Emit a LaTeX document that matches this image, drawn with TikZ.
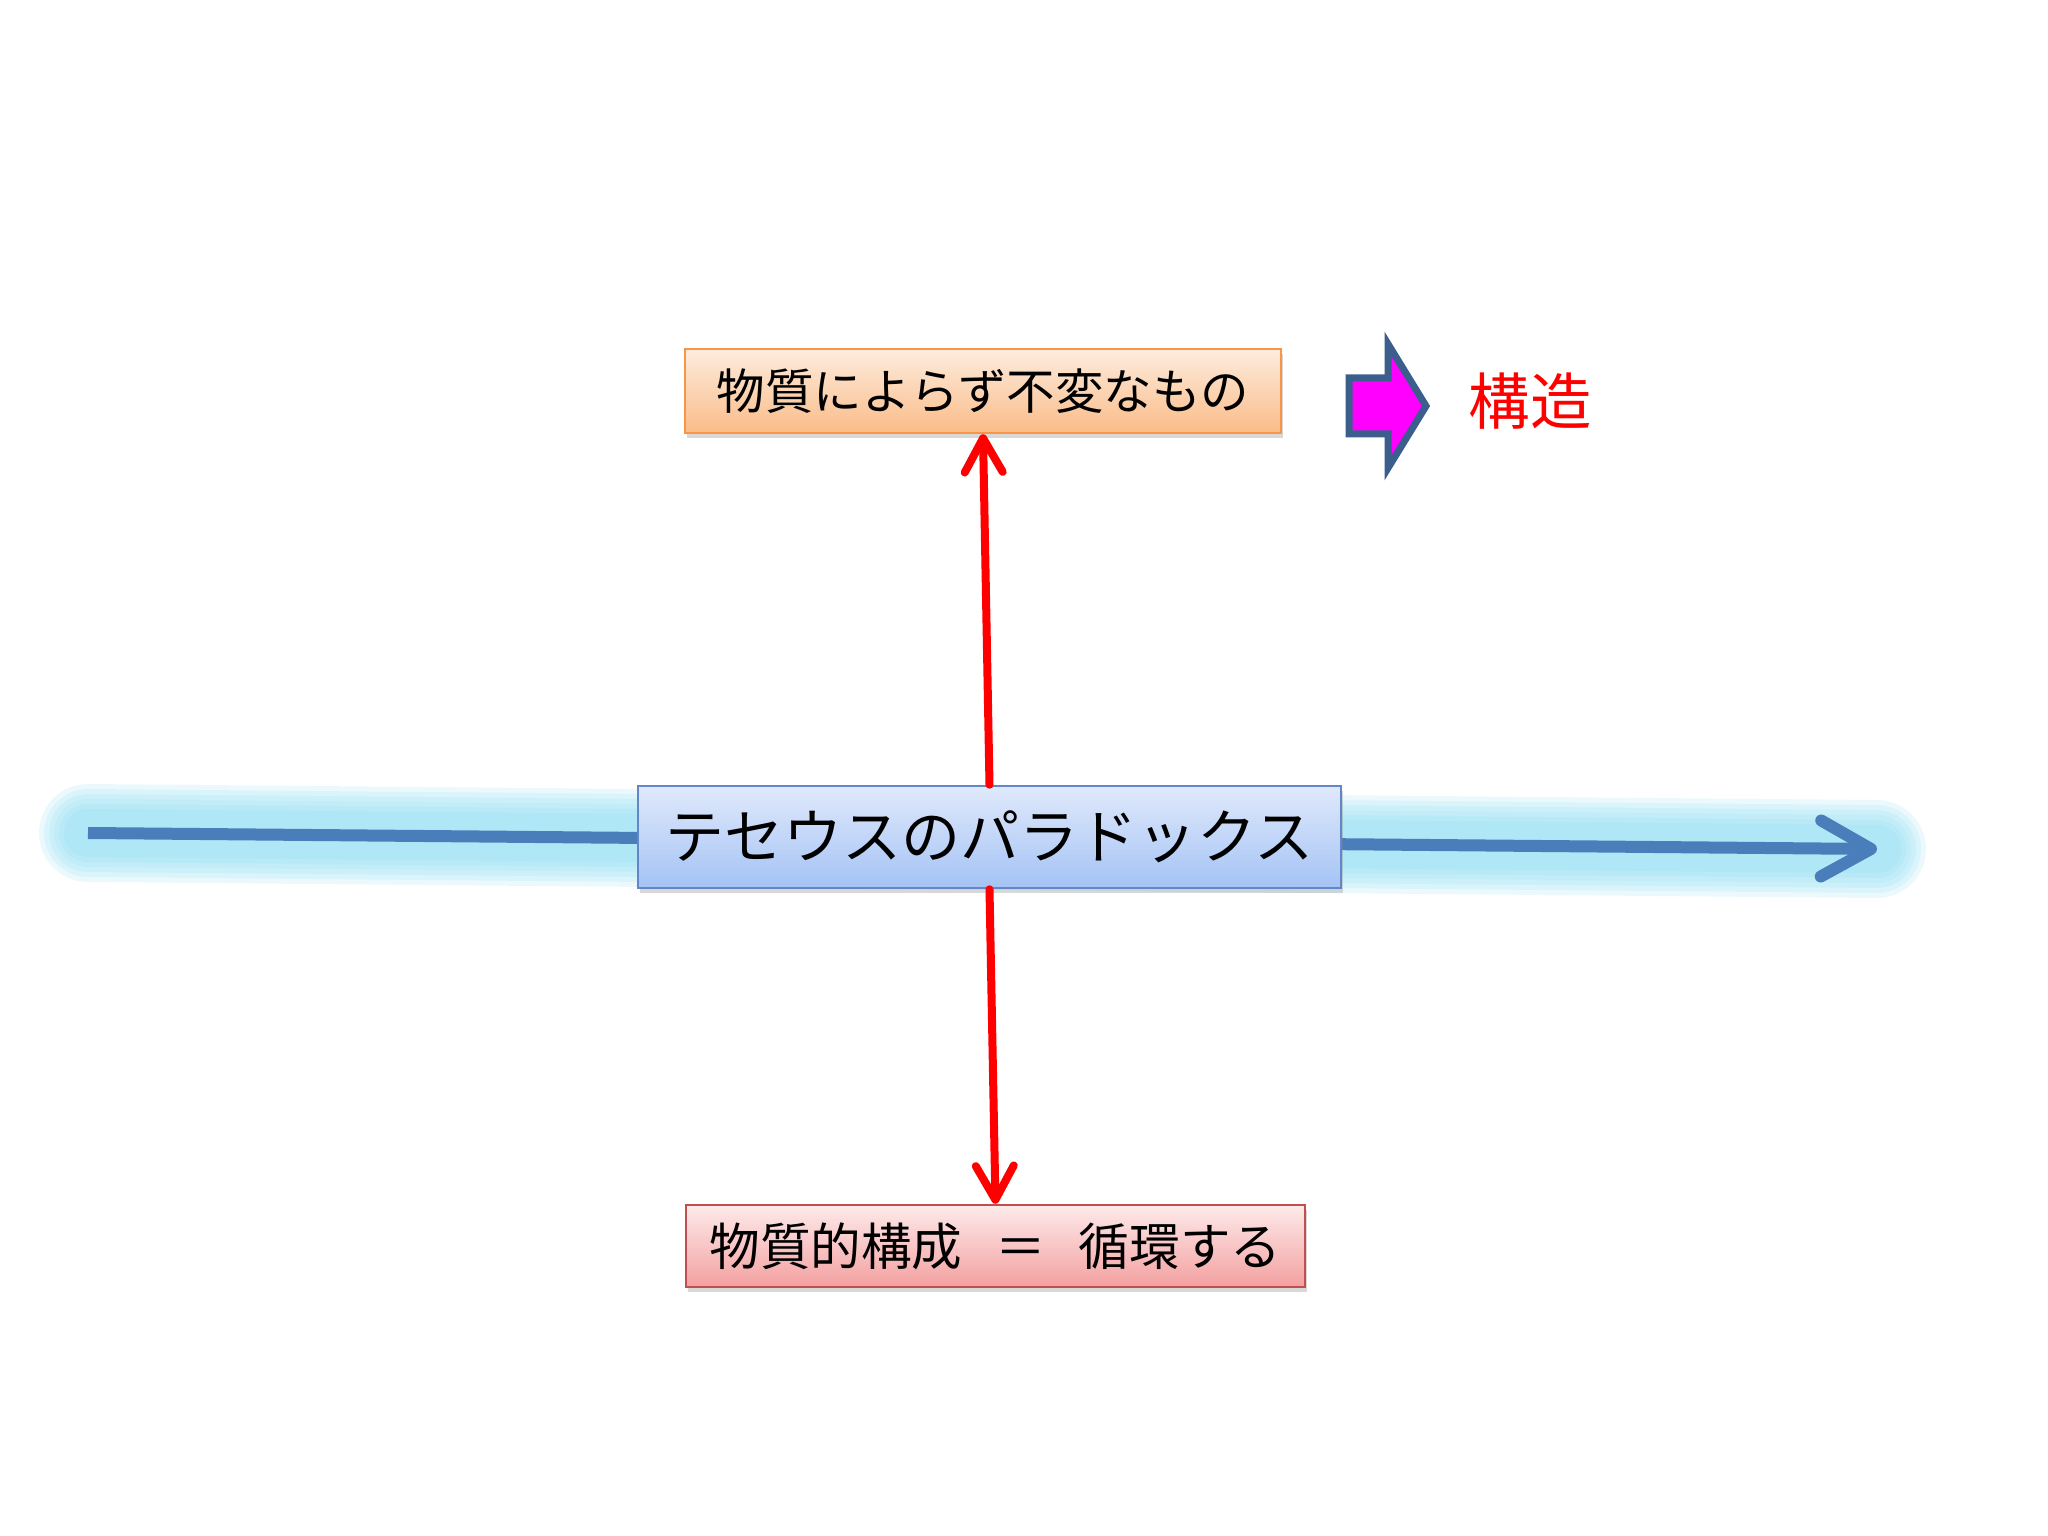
\documentclass[tikz,border=0pt]{standalone}
\usepackage{fontspec}
\setmainfont{Noto Sans CJK JP}
\usepackage{xcolor}
\usetikzlibrary{arrows.meta, positioning, shadows}
\definecolor{orangeedge}{RGB}{247,150,70}
\definecolor{orangetop}{RGB}{253,236,222}
\definecolor{orangebottom}{RGB}{250,188,136}
\definecolor{blueedge}{RGB}{98,134,200}
\definecolor{bluetop}{RGB}{224,233,251}
\definecolor{bluebottom}{RGB}{164,195,245}
\definecolor{rededge}{RGB}{192,80,77}
\definecolor{redtop}{RGB}{253,234,234}
\definecolor{redbottom}{RGB}{244,160,160}
\definecolor{timeline}{RGB}{74,126,187}
\definecolor{glowcolor}{RGB}{140,222,245}
\definecolor{shiftedge}{RGB}{59,94,140}
\definecolor{shiftfill}{RGB}{255,0,255}

\begin{document}
\begin{tikzpicture}[
    box/.style={draw, line width=0.025cm, inner sep=0pt, drop shadow={shadow xshift=0.02cm, shadow yshift=-0.05cm, opacity=0.3}},
    arrow/.style={-{Straight Barb[length=3.4mm, width=3.8mm, round]}, line width=0.08cm, red, line cap=round},
    glow/.style={line width=#1, glowcolor, opacity=0.17, line cap=round}
]
    \fill[white] (0,0) rectangle (20.48,-15.36);

    % Time line
    \coordinate (past) at (0.88,-8.33);
    \coordinate (future) at (18.77,-8.49);
    \foreach \w in {0.98,0.88,0.78,0.68,0.58,0.48}
        \draw[glow=\w cm] (past) -- (future);
    \draw[timeline, line width=0.12cm, -{Straight Barb[length=5mm, width=5.6mm, round]}] (past) -- (future);

    % Entities
    \node[box, draw=orangeedge, top color=orangetop, bottom color=orangebottom, minimum width=5.96cm, minimum height=0.84cm, font=\fontsize{13.8pt}{16pt}\selectfont] (invariant) at (9.83,-3.91) {物質によらず不変なもの};
    \node[box, draw=blueedge, top color=bluetop, bottom color=bluebottom, minimum width=7.03cm, minimum height=1.02cm, font=\fontsize{16.8pt}{19pt}\selectfont] (paradox) at (9.895,-8.37) {テセウスのパラドックス};
    \node[box, draw=rededge, top color=redtop, bottom color=redbottom, minimum width=6.19cm, minimum height=0.82cm, font=\fontsize{14.4pt}{17pt}\selectfont] (material) at (9.955,-12.46) {物質的構成\hspace{0.65em}＝\hspace{0.65em}循環する};
    \node[text=red, font=\fontsize{17.5pt}{20pt}\selectfont] (structure) at (15.30,-4.01) {構造};

    % Shift arrow
    \draw[shiftedge, line width=0.07cm, fill=shiftfill, miter limit=10] (13.49,-3.78) -- (13.88,-3.78) -- (13.88,-3.44) -- (14.26,-4.06) -- (13.88,-4.68) -- (13.88,-4.34) -- (13.49,-4.34) -- cycle;

    % Relationships
    \draw[arrow] (paradox.north) -- (invariant.south);
    \draw[arrow] (paradox.south) -- (material.north);
\end{tikzpicture}
\end{document}
